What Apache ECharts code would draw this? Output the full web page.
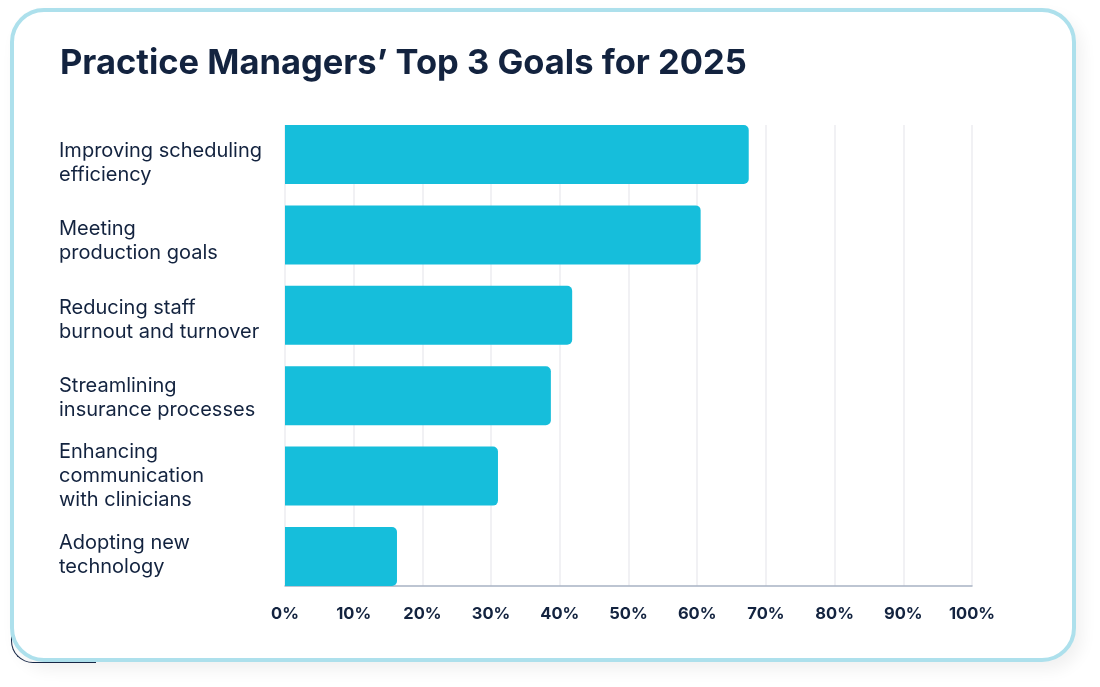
<!DOCTYPE html>
<html>
<head>
<meta charset="utf-8">
<script src="https://cdn.jsdelivr.net/npm/echarts@6/dist/echarts.min.js"></script>
<style>
  html, body { margin: 0; padding: 0; background: #ffffff; }
  #card {
    position: absolute; left: 10px; top: 8px; width: 1058px; height: 646px;
    border: 4px solid #ADE0EC; border-radius: 34px; background: #fff;
    box-shadow: 6px 8px 16px rgba(0,0,0,0.06);
  }
  #quirk {
    position: absolute; left: 11px; top: 545px; width: 84px; height: 117px;
    border-left: 1px solid #1a2a4a; border-bottom: 1px solid #1a2a4a;
    border-bottom-left-radius: 22px;
  }
  #chart { position: absolute; left: 0; top: 0; width: 1100px; height: 687px; }
</style>
</head>
<body>
<div id="quirk"></div>
<div id="card"></div>
<div id="chart"></div>
<script>
const titleText = 'Practice Managers\u2019 Top 3 Goals for 2025';
const categories = [
  'Improving scheduling\nefficiency',
  'Meeting\nproduction goals',
  'Reducing staff\nburnout and turnover',
  'Streamlining\ninsurance processes',
  'Enhancing\ncommunication\nwith clinicians',
  'Adopting new\ntechnology'
];
const values = [67.5, 60.5, 41.8, 38.7, 31.0, 16.3];
const xTicks = [0, 10, 20, 30, 40, 50, 60, 70, 80, 90, 100];

const navy = '#13233F';
const chart = echarts.init(document.getElementById('chart'), null, { renderer: 'canvas' });
chart.setOption({
  backgroundColor: 'transparent',
  animation: false,
  title: {
    text: titleText, left: 55, top: 41,
    textStyle: { fontFamily: 'Inter', fontWeight: 700, fontSize: 34.5, color: navy }
  },
  grid: [
    { left: 285, right: 128, top: 125, bottom: 101, outerBoundsMode: 'none' },
    { left: 285, right: 128, top: 114.3, bottom: 90.3, outerBoundsMode: 'none' },
    { left: 285, right: 128, top: 123.8, bottom: 93, outerBoundsMode: 'none' }
  ],
  xAxis: [
    {
      gridIndex: 0, type: 'value', min: 0, max: 100, interval: 10,
      axisLine: { show: true, lineStyle: { color: '#A8B3C3', width: 1.5 } },
      axisTick: { show: false },
      splitLine: { show: true, lineStyle: { color: '#ECEDF0', width: 1.5 } },
      axisLabel: {
        margin: 20, color: navy, fontFamily: 'Inter', fontWeight: 700, fontSize: 16.5,
        formatter: v => xTicks.includes(v) ? v + '%' : ''
      }
    },
    { gridIndex: 1, type: 'value', min: 0, max: 100, show: false },
    { gridIndex: 2, type: 'value', min: 0, max: 100, show: false }
  ],
  yAxis: [
    { gridIndex: 0, type: 'category', data: categories, inverse: true, show: false },
    { gridIndex: 1, type: 'category', data: categories, inverse: true, show: false },
    {
      gridIndex: 2, type: 'category', data: categories, inverse: true,
      axisLine: { show: false }, axisTick: { show: false }, splitLine: { show: false },
      axisLabel: {
        align: 'left', margin: 226, color: navy, fontFamily: 'Inter',
        fontSize: 20, lineHeight: 24
      }
    }
  ],
  series: [{
    type: 'bar', xAxisIndex: 1, yAxisIndex: 1, data: values, barWidth: 59,
    itemStyle: { color: '#16BEDB', borderRadius: [0, 5, 5, 0] }
  }]
});
</script>
</body>
</html>
